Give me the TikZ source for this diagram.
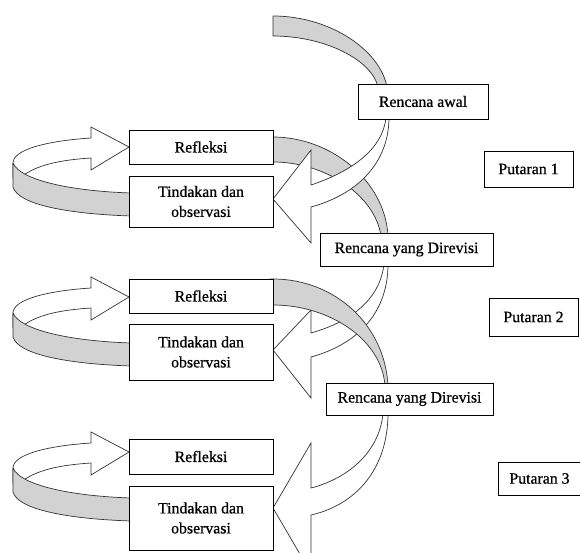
\documentclass[tikz,border=0pt]{standalone}
\usepackage{fontspec}
\setmainfont{Liberation Serif}[BoldFont=Liberation Serif,BoldFeatures={FakeBold=0.7}]
\begin{document}
\begin{tikzpicture}[x=1pt,y=-1pt,
  lbl/.style={draw=black,line width=0.9pt,fill=white,inner sep=0pt,align=center,
    font=\fontsize{15.8}{20}\selectfont\bfseries},
  ribbon/.style={draw=black!80,line width=0.7pt,fill=gray!35,line join=round},
  whitearrow/.style={draw=black!80,line width=0.7pt,fill=white,line join=miter}]
\useasboundingbox (0,0) rectangle (580,553);
\clip (0,0) rectangle (580,553);

% top gray arc into "Rencana awal"
\draw[ribbon] (273,16) .. controls (330,16) and (380,50) .. (387,87)
  -- (378,87) .. controls (372,60) and (325,36) .. (273,36) -- cycle;
% gray arc 1
\draw[ribbon] (270,137) -- (273,137) .. controls (330,137) and (385,180) .. (388,236)
  -- (381,236) .. controls (375,195) and (325,162) .. (273,162) -- (270,162) -- cycle;
% white arrow 1
\draw[whitearrow] (386,117) .. controls (383,150) and (350,172) .. (311,185)
  -- (311,150) -- (273,199) -- (311,243) -- (311,207)
  .. controls (355,195) and (389,165) .. (389,117) -- cycle;
% white arrow 2
\draw[whitearrow] (384,264) .. controls (380,300) and (350,322) .. (311,333)
  -- (311,310) -- (273,350) -- (311,398) -- (311,357)
  .. controls (355,345) and (388,315) .. (388,264) -- cycle;
% gray arc 2 (in front of arrow 2)
\draw[ribbon] (270,279) -- (273,279) .. controls (335,279) and (385,325) .. (388,386)
  -- (385,386) .. controls (382,340) and (330,305) .. (273,305) -- (270,305) -- cycle;
% white arrow 3
\draw[whitearrow] (383,413) .. controls (380,450) and (350,478) .. (311,488)
  -- (311,443) -- (273,508) -- (311,573) -- (311,515)
  .. controls (355,505) and (388,470) .. (388,413) -- cycle;

% left loops
\foreach \d in {0,150,305}{
  \begin{scope}[shift={(0,\d)}]
    \draw[whitearrow] (13,163) .. controls (13,150) and (45,141) .. (91,138)
      -- (91,127) -- (129,147) -- (91,170) -- (91,158)
      .. controls (60,160) and (35,165) .. (20,178) -- (13,178) -- cycle;
    \draw[ribbon] (13,163) .. controls (20,180) and (70,191) .. (131,193)
      -- (131,216) .. controls (70,214) and (18,205) .. (13,187) -- cycle;
  \end{scope}
}

% boxes
\node[lbl,minimum width=130pt,minimum height=35pt] (ra) at (423,101.5) {Rencana awal};
\node[lbl,minimum width=89pt,minimum height=36pt] (p1) at (528.5,169) {Putaran 1};
\node[lbl,minimum width=144pt,minimum height=34pt] (r1) at (201,147) {Refleksi};
\node[lbl,minimum width=144pt,minimum height=51pt] (t1) at (201,201.5) {Tindakan dan\\observasi};
\node[lbl,minimum width=173pt,minimum height=33pt] (d1) at (406.5,249.5) {Rencana yang Direvisi};
\node[lbl,minimum width=144pt,minimum height=34pt] (r2) at (201,296) {Refleksi};
\node[lbl,minimum width=144pt,minimum height=56pt] (t2) at (201,352) {Tindakan dan\\observasi};
\node[lbl,minimum width=89pt,minimum height=38pt] (p2) at (533.5,317) {Putaran 2};
\node[lbl,minimum width=167pt,minimum height=32pt] (d2) at (409.5,399) {Rencana yang Direvisi};
\node[lbl,minimum width=144pt,minimum height=35pt] (r3) at (201,456.5) {Refleksi};
\node[lbl,minimum width=144pt,minimum height=64pt] (t3) at (201,518) {Tindakan dan\\observasi};
\node[lbl,minimum width=83pt,minimum height=33pt] (p3) at (539.5,478.5) {Putaran 3};
\end{tikzpicture}
\end{document}
